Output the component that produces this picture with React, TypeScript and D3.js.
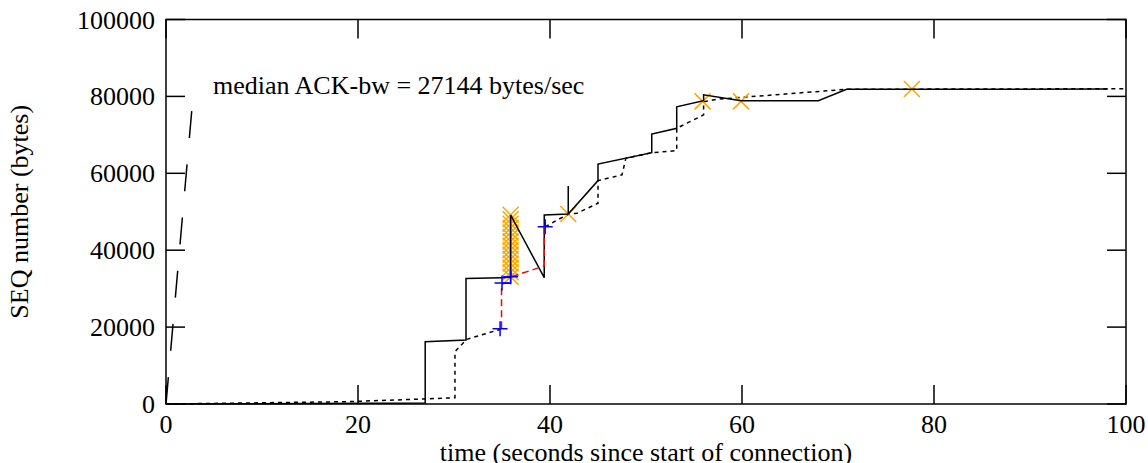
import React from "react";
import * as d3 from "d3";

const W = 1148;
const H = 463;

const xTicks = [0, 20, 40, 60, 80, 100];
const yTicks = [0, 20000, 40000, 60000, 80000, 100000];

const annotation = "median ACK-bw = 27144 bytes/sec";
const xTitle = "time (seconds since start of connection)";
const yTitle = "SEQ number (bytes)";

// bandwidth reference line (long dashes)
const bwT = [0, 2.68];
const bwV = [0, 76200];

// solid black line
const solidT = [0, 27.0, 27.0, 31.25, 31.25, 34.97, 35.9, 35.9, 39.4, 39.4, 41.9, 41.9, 41.9, 45.0, 45.0, 50.6, 50.6, 53.2, 53.2, 56.0, 56.0, 59.9, 67.95, 70.9, 98.1];
const solidV = [0, 250, 16200, 16650, 32650, 32850, 32950, 49150, 32850, 49150, 49400, 56700, 49400, 58100, 62400, 65350, 70200, 71700, 77300, 78900, 80400, 78900, 78900, 81850, 81900];

// dotted black line segments
const dot1T = [0, 18.8, 26.8, 30.1, 30.1, 31.3, 34.8];
const dot1V = [0, 600, 1300, 1640, 13600, 16800, 19400];
const dot2T = [35.9, 35.9];
const dot2V = [32950, 49150];
const dot3T = [39.5, 41.9, 42.8, 45.0, 45.0, 47.5, 47.9, 50.6, 53.2, 53.2, 56.0, 56.0, 57.4, 70.9, 100];
const dot3V = [46100, 49400, 49600, 52200, 58100, 59600, 63900, 65350, 65900, 71700, 75200, 78600, 79250, 81850, 82000];

// red dashed segments
const red1T = [34.95, 34.95];
const red1V = [19700, 30500];
const red2T = [36.0, 39.4, 39.4];
const red2V = [33100, 35900, 46100];

// blue markers
const blueT = [34.8, 35.0, 35.9, 39.5];
const blueV = [19600, 31500, 33100, 46100];
const blueLineT = [35.0, 35.9, 35.9];
const blueLineV = [31400, 31400, 34400];

// orange crosses
const orangeT = [35.9, 35.9, 35.9, 35.9, 35.9, 35.9, 35.9, 35.9, 35.9, 35.9, 35.9, 35.9, 35.9, 35.9, 35.9, 41.9, 55.9, 59.9, 77.7];
const orangeV = [33100, 34250, 35400, 36550, 37700, 38850, 40000, 41150, 42300, 43450, 44600, 45750, 46900, 48050, 49200, 49400, 78700, 78700, 81900];

const FONT = "'Liberation Serif', 'Times New Roman', serif";

export default function App() {
  const left = 166, right = 1126, top = 19.5, bottom = 404;
  const x = d3.scaleLinear().domain([0, 100]).range([left, right]);
  const y = d3.scaleLinear().domain([0, 100000]).range([bottom, top]);
  const line = d3.line<number>().x((_, i) => 0).y(() => 0);
  const mk = (ts: number[], vs: number[]) =>
    d3.line<[number, number]>().x((d) => x(d[0])).y((d) => y(d[1]))(ts.map((t, i) => [t, vs[i]] as [number, number])) || "";
  void line;
  const tickLen = 19;
  const fs = 26;

  return (
    <svg width={W} height={H} style={{ position: "absolute", left: 0, top: 0, background: "#fff" }} fontFamily={FONT}>
      <rect x={0} y={0} width={W} height={H} fill="#fff" />
      {/* ticks */}
      {xTicks.map((t) => (
        <g key={"xt" + t}>
          <line x1={x(t)} x2={x(t)} y1={bottom} y2={bottom - tickLen} stroke="#000" strokeWidth={1.5} />
          <line x1={x(t)} x2={x(t)} y1={top} y2={top + tickLen} stroke="#000" strokeWidth={1.5} />
          <text x={x(t)} y={433} fontSize={fs} textAnchor="middle" fill="#000">{t}</text>
        </g>
      ))}
      {yTicks.map((v) => (
        <g key={"yt" + v}>
          <line x1={left} x2={left + tickLen} y1={y(v)} y2={y(v)} stroke="#000" strokeWidth={1.5} />
          <line x1={right} x2={right - tickLen} y1={y(v)} y2={y(v)} stroke="#000" strokeWidth={1.5} />
          <text x={155} y={y(v) + 9} fontSize={fs} textAnchor="end" fill="#000">{v}</text>
        </g>
      ))}
      {/* bandwidth line */}
      <path d={mk(bwT, bwV)} fill="none" stroke="#000" strokeWidth={1.5} strokeDasharray="27,26.4" />
      {/* dotted lines */}
      <path d={mk(dot1T, dot1V)} fill="none" stroke="#000" strokeWidth={1.5} strokeDasharray="4,4" />
      <path d={mk(dot2T, dot2V)} fill="none" stroke="#000" strokeWidth={1.5} strokeDasharray="4,4" />
      <path d={mk(dot3T, dot3V)} fill="none" stroke="#000" strokeWidth={1.5} strokeDasharray="4,4" />
      {/* orange crosses */}
      {orangeT.map((t, i) => {
        const cx = x(t), cy = y(orangeV[i]), s = 8;
        return (
          <path key={"o" + i} d={`M${cx - s},${cy - s}L${cx + s},${cy + s}M${cx - s},${cy + s}L${cx + s},${cy - s}`} stroke="#FFA500" strokeWidth={1.5} fill="none" />
        );
      })}
      {/* solid line */}
      <path d={mk(solidT, solidV)} fill="none" stroke="#000" strokeWidth={1.5} strokeLinejoin="miter" />
      {/* red dashed */}
      <path d={mk(red1T, red1V)} fill="none" stroke="#FF0000" strokeWidth={1.5} strokeDasharray="7,4" />
      <path d={mk(red2T, red2V)} fill="none" stroke="#FF0000" strokeWidth={1.5} strokeDasharray="7,4" />
      {/* blue */}
      <path d={mk(blueLineT, blueLineV)} fill="none" stroke="#0000FF" strokeWidth={1.5} />
      {blueT.map((t, i) => {
        const cx = x(t), cy = y(blueV[i]), s = 7.5;
        return (
          <path key={"b" + i} d={`M${cx - s},${cy}L${cx + s},${cy}M${cx},${cy - s}L${cx},${cy + s}`} stroke="#0000FF" strokeWidth={1.5} fill="none" />
        );
      })}
      {/* frame */}
      <rect x={left} y={top} width={right - left} height={bottom - top} fill="none" stroke="#000" strokeWidth={1.5} />
      {/* annotation */}
      <text x={213} y={94} fontSize={fs} fill="#000">{annotation}</text>
      {/* axis titles */}
      <text x={(left + right) / 2} y={461} fontSize={fs} textAnchor="middle" fill="#000">{xTitle}</text>
      <text transform={`translate(28,${(top + bottom) / 2}) rotate(-90)`} fontSize={fs} textAnchor="middle" fill="#000">{yTitle}</text>
    </svg>
  );
}
